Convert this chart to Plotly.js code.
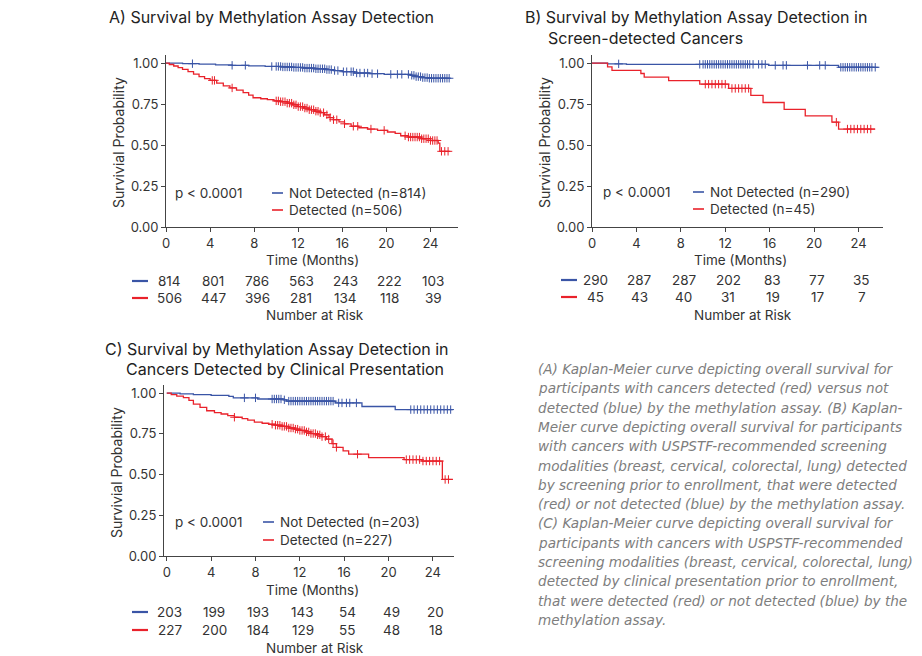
<!DOCTYPE html>
<html>
<head>
<meta charset="utf-8">
<script src="https://cdn.plot.ly/plotly-3.0.1.min.js"></script>
<style>html,body{margin:0;padding:0;background:#fff;}#chart{width:922px;height:656px;}</style>
</head>
<body>
<div id="chart"></div>
<script>
// ---------- DATA ----------
const riskTimes = [0, 4, 8, 12, 16, 20, 24];
const xTicks = [0, 4, 8, 12, 16, 20, 24];
const yTicks = [0, 0.25, 0.5, 0.75, 1];
const yTickText = ["0.00", "0.25", "0.50", "0.75", "1.00"];

// Panel A
const aNdT = [0, 1.5, 3, 4.5, 6, 7.5, 9, 10.5, 11.5, 12.5, 13.5, 14.5, 15.2, 16, 17.1, 18.5, 19.8, 22.2, 22.6, 23.2, 23.8, 25.8];
const aNdS = [1, 0.997, 0.994, 0.99, 0.987, 0.984, 0.98, 0.977, 0.974, 0.97, 0.966, 0.961, 0.955, 0.948, 0.94, 0.936, 0.932, 0.926, 0.918, 0.912, 0.908, 0.908];
const aNdCens = [2.4, 6.0, 7.2, 9.6, 10.0, 10.2, 10.4, 10.6, 10.8, 11.0, 11.2, 11.4, 11.6, 11.8, 12.0, 12.2, 12.4, 12.6, 12.8, 13.0, 13.2, 13.4, 13.6, 13.8, 14.0, 14.2, 14.4, 14.6, 14.8, 15.0, 15.3, 15.6, 16.1, 16.4, 16.8, 17.0, 17.3, 17.6, 18.0, 18.3, 18.7, 19.2, 20.4, 21.0, 21.4, 22.0, 22.3, 22.5, 22.7, 22.9, 23.1, 23.3, 23.5, 23.7, 23.9, 24.1, 24.3, 24.5, 24.7, 24.9, 25.1, 25.3, 25.5, 25.7];
const aDT = [0, 0.3, 0.7, 1.1, 1.5, 2.0, 2.5, 3.0, 3.5, 4.0, 4.6, 5.2, 5.8, 6.4, 7.0, 7.5, 7.9, 8.6, 9.2, 9.8, 10.4, 11.0, 11.5, 12.0, 12.5, 13.0, 13.5, 14.0, 14.4, 14.8, 15.2, 15.7, 16.2, 16.8, 17.5, 18.3, 19.2, 20.1, 20.8, 21.3, 22.0, 23.2, 24.0, 24.7, 24.85, 25.8];
const aDS = [1, 0.992, 0.983, 0.973, 0.962, 0.948, 0.933, 0.918, 0.906, 0.895, 0.878, 0.862, 0.849, 0.836, 0.82, 0.805, 0.789, 0.783, 0.777, 0.77, 0.765, 0.756, 0.746, 0.735, 0.726, 0.716, 0.707, 0.698, 0.685, 0.668, 0.655, 0.642, 0.63, 0.615, 0.606, 0.598, 0.59, 0.58, 0.572, 0.557, 0.549, 0.539, 0.528, 0.512, 0.462, 0.462];
const aDCens = [4.2, 4.4, 6.0, 10.0, 10.2, 10.4, 10.6, 10.8, 11.0, 11.2, 11.4, 11.6, 11.8, 12.0, 12.2, 12.4, 12.6, 12.8, 13.0, 13.2, 13.4, 13.6, 13.8, 14.0, 14.3, 14.6, 14.9, 15.2, 15.5, 16.2, 17.0, 17.4, 18.6, 19.8, 21.7, 22.0, 22.2, 22.4, 22.6, 22.8, 23.0, 23.2, 23.4, 23.6, 23.8, 24.0, 24.2, 24.4, 24.6, 25.0, 25.3, 25.6];
const aRiskNd = [814, 801, 786, 563, 243, 222, 103];
const aRiskD = [506, 447, 396, 281, 134, 118, 39];

// Panel B
const bNdT = [0, 1.4, 3.1, 15.9, 22.2, 25.8];
const bNdS = [1, 0.996, 0.993, 0.987, 0.975, 0.975];
const bNdCens = [2.4, 9.7, 10.0, 10.2, 10.4, 10.6, 10.8, 11.0, 11.2, 11.4, 11.6, 11.8, 12.0, 12.2, 12.4, 12.6, 12.8, 13.0, 13.2, 13.4, 13.6, 13.8, 14.0, 14.2, 14.5, 15.0, 15.3, 15.6, 16.5, 17.2, 17.5, 19.4, 20.5, 21.0, 22.4, 22.6, 22.8, 23.0, 23.2, 23.4, 23.6, 23.8, 24.0, 24.2, 24.4, 24.6, 24.8, 25.0, 25.2, 25.5];
const bDT = [0, 1.4, 1.8, 4.4, 4.7, 6.9, 9.7, 12.3, 14.3, 15.4, 17.3, 19.2, 21.6, 22.2, 25.5];
const bDS = [1, 0.978, 0.956, 0.937, 0.915, 0.893, 0.872, 0.846, 0.803, 0.760, 0.718, 0.678, 0.640, 0.598, 0.598];
const bDCens = [10.2, 10.5, 10.8, 11.1, 11.4, 11.7, 12.0, 12.6, 12.9, 13.2, 13.5, 13.8, 14.1, 22.0, 23.0, 23.3, 23.6, 23.9, 24.2, 24.5, 24.8, 25.1];
const bRiskNd = [290, 287, 287, 202, 83, 77, 35];
const bRiskD = [45, 43, 40, 31, 19, 17, 7];

// Panel C
const cNdT = [0, 1.2, 2.4, 4.0, 5.6, 6.0, 8.2, 10.5, 10.8, 15.2, 17.6, 20.6, 25.8];
const cNdS = [1, 0.996, 0.991, 0.986, 0.980, 0.971, 0.964, 0.959, 0.951, 0.940, 0.918, 0.899, 0.899];
const cNdCens = [7.0, 8.0, 9.5, 9.7, 9.9, 10.1, 10.3, 10.6, 11.0, 11.2, 11.4, 11.6, 11.8, 12.0, 12.2, 12.4, 12.6, 12.8, 13.0, 13.2, 13.4, 13.6, 13.8, 14.0, 14.2, 14.4, 14.6, 14.8, 15.0, 15.5, 15.8, 16.2, 16.5, 17.1, 22.0, 22.3, 22.6, 22.9, 23.2, 23.5, 23.8, 24.1, 24.4, 24.7, 25.0, 25.3, 25.6];
const cDT = [0, 0.4, 0.9, 1.5, 2.0, 2.4, 3.0, 3.6, 4.3, 4.9, 5.5, 6.1, 6.8, 7.3, 7.9, 8.6, 9.2, 9.8, 10.4, 11.0, 11.5, 12.0, 12.5, 13.0, 13.5, 14.0, 14.4, 14.9, 15.3, 15.9, 16.4, 18.2, 21.4, 23.0, 24.85, 25.8];
const cDS = [1, 0.991, 0.982, 0.972, 0.955, 0.932, 0.913, 0.892, 0.88, 0.872, 0.862, 0.852, 0.843, 0.834, 0.822, 0.815, 0.809, 0.803, 0.796, 0.786, 0.779, 0.771, 0.762, 0.752, 0.744, 0.733, 0.718, 0.690, 0.667, 0.645, 0.625, 0.604, 0.592, 0.583, 0.470, 0.470];
const cDCens = [6.1, 9.5, 9.8, 10.0, 10.2, 10.4, 10.6, 10.8, 11.0, 11.2, 11.4, 11.6, 11.8, 12.0, 12.2, 12.4, 12.6, 12.8, 13.0, 13.2, 13.4, 13.6, 13.8, 14.0, 14.3, 14.6, 15.0, 15.3, 17.2, 21.6, 21.9, 22.2, 22.5, 22.8, 23.1, 23.4, 23.7, 24.0, 24.3, 24.6, 25.1, 25.4];
const cRiskNd = [203, 199, 193, 143, 54, 49, 20];
const cRiskD = [227, 200, 184, 129, 55, 48, 18];

const captionLines = [
  "(A) Kaplan-Meier curve depicting overall survival for",
  "participants with cancers detected (red) versus not",
  "detected (blue) by the methylation assay. (B) Kaplan-",
  "Meier curve depicting overall survival for participants",
  "with cancers with USPSTF-recommended screening",
  "modalities (breast, cervical, colorectal, lung) detected",
  "by screening prior to enrollment, that were detected",
  "(red) or not detected (blue) by the methylation assay.",
  "(C) Kaplan-Meier curve depicting overall survival for",
  "participants with cancers with USPSTF-recommended",
  "screening modalities (breast, cervical, colorectal, lung)",
  "detected by clinical presentation prior to enrollment,",
  "that were detected (red) or not detected (blue) by the",
  "methylation assay."
];

// ---------- STYLE ----------
const W = 922, H = 656;
const BLUE = "#3a55a6", RED = "#e9222b", TXT = "#333333", AX = "#444444";
const FONT = "Inter, 'Open Sans', sans-serif";
const px = x => x / W;
const py = y => 1 - y / H;

function survAt(t, T, S) {
  let s = S[0];
  for (let i = 0; i < T.length; i++) { if (T[i] <= t) s = S[i]; }
  return s;
}

const traces = [];
function addPanel(xa, ya, T1, S1, C1, T2, S2, C2) {
  traces.push({x: T1, y: S1, xaxis: xa, yaxis: ya, mode: "lines", line: {shape: "hv", color: BLUE, width: 1.3}, hoverinfo: "skip", showlegend: false});
  traces.push({x: C1, y: C1.map(t => survAt(t, T1, S1)), xaxis: xa, yaxis: ya, mode: "markers",
    marker: {symbol: "cross-thin", size: 6, line: {width: 1, color: BLUE}, color: BLUE}, hoverinfo: "skip", showlegend: false});
  traces.push({x: T2, y: S2, xaxis: xa, yaxis: ya, mode: "lines", line: {shape: "hv", color: RED, width: 1.3}, hoverinfo: "skip", showlegend: false});
  traces.push({x: C2, y: C2.map(t => survAt(t, T2, S2)), xaxis: xa, yaxis: ya, mode: "markers",
    marker: {symbol: "cross-thin", size: 6, line: {width: 1, color: RED}, color: RED}, hoverinfo: "skip", showlegend: false});
}
addPanel("x", "y", aNdT, aNdS, aNdCens, aDT, aDS, aDCens);
addPanel("x2", "y2", bNdT, bNdS, bNdCens, bDT, bDS, bDCens);
addPanel("x3", "y3", cNdT, cNdS, cNdCens, cDT, cDS, cDCens);

function xAx(d0, d1, range, anchor) {
  return {domain: [px(d0), px(d1)], range: range, anchor: anchor, showline: true, linecolor: AX, linewidth: 1,
    ticks: "outside", ticklen: 4, tickcolor: AX, tickvals: xTicks, showgrid: false, zeroline: false,
    tickfont: {family: FONT, size: 13, color: TXT}, fixedrange: true};
}
function yAx(top, bottom, anchor) {
  return {domain: [py(bottom), py(top)], range: [0, 1.05], anchor: anchor, showline: true, linecolor: AX, linewidth: 1,
    ticks: "outside", ticklen: 4, tickcolor: AX, tickvals: yTicks, ticktext: yTickText, showgrid: false, zeroline: false,
    tickfont: {family: FONT, size: 13, color: TXT}, fixedrange: true};
}

const ann = [];
function txt(x, y, s, opt) {
  ann.push(Object.assign({xref: "paper", yref: "paper", x: px(x), y: py(y), text: s, showarrow: false,
    xanchor: "left", yanchor: "middle", font: {family: FONT, size: 13, color: TXT}}, opt || {}));
}
const shapes = [];
function dash(x0, x1, y, color, w) {
  shapes.push({type: "line", xref: "paper", yref: "paper", x0: px(x0), x1: px(x1), y0: py(y), y1: py(y), line: {color: color, width: w || 2.2}});
}

// titles
const TF = {family: FONT, size: 16, color: "#222"};
txt(107, 17, "A) Survival by Methylation Assay Detection", {font: TF});
txt(523, 17, "B) Survival by Methylation Assay Detection in", {font: TF});
txt(546, 38, "Screen-detected Cancers", {font: TF});
txt(103, 349, "C) Survival by Methylation Assay Detection in", {font: TF});
txt(124, 369, "Cancers Detected by Clinical Presentation", {font: TF});

// axis titles
const AF = {family: FONT, size: 14, color: TXT};
txt(118, 143, "Survivial Probability", {textangle: -90, xanchor: "center", font: AF});
txt(544, 143, "Survivial Probability", {textangle: -90, xanchor: "center", font: AF});
txt(116, 473, "Survivial Probability", {textangle: -90, xanchor: "center", font: AF});
const TF2 = {family: FONT, size: 13.5, color: TXT};
txt(312, 260, "Time (Months)", {xanchor: "center", font: TF2});
txt(740, 260, "Time (Months)", {xanchor: "center", font: TF2});
txt(312, 590, "Time (Months)", {xanchor: "center", font: TF2});

// in-plot legends
function legend(pX, lx0, y1, y2, l1, l2) {
  txt(pX, y1, "p < 0.0001", {font: TF2});
  dash(lx0, lx0 + 11, y1, BLUE, 1.6);
  dash(lx0, lx0 + 11, y2, RED, 1.6);
  txt(lx0 + 15, y1, l1, {font: TF2});
  txt(lx0 + 15, y2, l2, {font: TF2});
}
legend(173, 272, 193, 210, "Not Detected (n=814)", "Detected (n=506)");
legend(601, 693, 192, 209, "Not Detected (n=290)", "Detected (n=45)");
legend(173, 263, 522, 540, "Not Detected (n=203)", "Detected (n=227)");

// risk tables
function risk(xa, lx0, y1, y2, yNum, r1, r2, cx) {
  dash(lx0, lx0 + 16, y1, BLUE);
  dash(lx0, lx0 + 16, y2, RED);
  riskTimes.forEach((t, i) => {
    ann.push({xref: xa, yref: "paper", x: t, y: py(y1), text: String(r1[i]), showarrow: false, xanchor: "center", yanchor: "middle", xshift: 3, font: {family: FONT, size: 13.5, color: TXT}});
    ann.push({xref: xa, yref: "paper", x: t, y: py(y2), text: String(r2[i]), showarrow: false, xanchor: "center", yanchor: "middle", xshift: 3, font: {family: FONT, size: 13.5, color: TXT}});
  });
  txt(cx, yNum, "Number at Risk", {xanchor: "center", font: TF2});
}
risk("x", 132, 281, 298, 315, aRiskNd, aRiskD, 315);
risk("x2", 561, 280, 297, 315, bRiskNd, bRiskD, 743);
risk("x3", 132, 612, 630, 648, cRiskNd, cRiskD, 315);

// caption
captionLines.forEach((s, i) => {
  txt(537, 369 + i * 19.3, "<i>" + s + "</i>",
    {borderpad: 0, font: {family: "'DejaVu Sans', sans-serif", size: 13.6, color: "#7d7d7d"}});
});

const layout = {
  width: W, height: H, margin: {l: 0, r: 0, t: 0, b: 0}, paper_bgcolor: "#fff", plot_bgcolor: "rgba(0,0,0,0)",
  showlegend: false,
  xaxis: xAx(166, 458, [0, 26.5], "y"),
  yaxis: yAx(55, 227, "x"),
  xaxis2: xAx(592, 883, [0, 26.2], "y2"),
  yaxis2: yAx(55, 227, "x2"),
  xaxis3: xAx(164, 454, [-0.25, 25.9], "y3"),
  yaxis3: yAx(385, 556, "x3"),
  annotations: ann, shapes: shapes
};
Plotly.newPlot("chart", traces, layout, {staticPlot: true, displayModeBar: false});
</script>
</body>
</html>
